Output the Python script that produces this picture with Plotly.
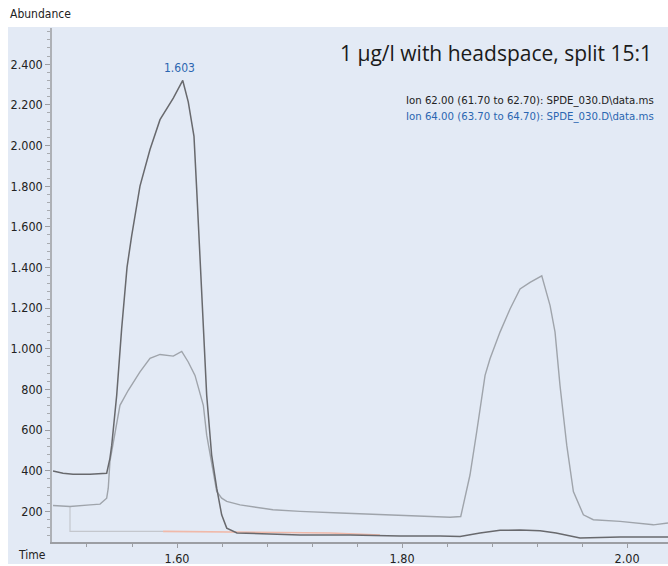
import plotly.graph_objects as go

# ---- data ----
ion_a_time = [1.4898, 1.4987, 1.5076, 1.5227, 1.5375, 1.5404, 1.5420, 1.5464, 1.5508, 1.5556,
              1.5597, 1.5671, 1.5760, 1.5849, 1.5967, 1.6051, 1.6100, 1.6151, 1.6175, 1.6198,
              1.6234, 1.6264, 1.6308, 1.6353, 1.6397, 1.6442, 1.6533, 1.6738, 1.7093, 1.7538,
              1.7982, 1.8338, 1.8516, 1.8693, 1.8871, 1.9049, 1.9227, 1.9369, 1.9464, 1.9582,
              1.9938, 2.0364]
ion_a_abund = [399, 388, 383, 383, 388, 461, 526, 771, 1098, 1402,
               1555, 1800, 1980, 2127, 2233, 2320, 2215, 2045, 1784, 1539,
               1098, 771, 477, 314, 183, 118, 94, 89, 84, 84,
               79, 79, 77, 94, 107, 108, 105, 94, 82, 69,
               74, 74]

ion_b_time = [1.4898, 1.5049, 1.5227, 1.5316, 1.5375, 1.5389, 1.5404, 1.5464, 1.5493, 1.5567,
              1.5671, 1.5760, 1.5849, 1.5967, 1.6042, 1.6100, 1.6160, 1.6234, 1.6264, 1.6353,
              1.6397, 1.6442, 1.6560, 1.6853, 1.7093, 1.7449, 1.7855, 1.8236, 1.8427, 1.8522,
              1.8545, 1.8604, 1.8664, 1.8738, 1.8782, 1.8871, 1.8960, 1.9049, 1.9138, 1.9242,
              1.9316, 1.9360, 1.9404, 1.9464, 1.9523, 1.9612, 1.9700, 1.9938, 2.0234, 2.0364]
ion_b_abund = [229, 224, 232, 236, 265, 314, 446, 624, 722, 796,
               886, 953, 972, 964, 987, 935, 869, 722, 575, 298,
               265, 249, 232, 208, 200, 192, 183, 175, 171, 175,
               232, 379, 592, 869, 951, 1082, 1196, 1294, 1327, 1359,
               1212, 1082, 820, 526, 298, 183, 159, 151, 134, 143]

faint_time = [1.5049, 1.5049, 1.5876]
faint_abund = [224, 102, 102]
salmon_time = [1.5876, 1.6560, 1.7360, 1.7804]
salmon_abund = [102, 98, 94, 84]

peak_time = 1.6051
peak_abund = 2320
peak_label = "1.603"

y_tick_vals = [200, 400, 600, 800, 1000, 1200, 1400, 1600, 1800, 2000, 2200, 2400]
y_tick_text = ["200", "400", "600", "800", "1.000", "1.200", "1.400", "1.600",
               "1.800", "2.000", "2.200", "2.400"]
x_tick_vals = [1.60, 1.80, 2.00]
x_tick_text = ["1.60", "1.80", "2.00"]

title_text = "1 µg/l with headspace, split 15:1"
legend_lines = ["Ion 62.00 (61.70 to 62.70): SPDE_030.D\\data.ms",
                "Ion 64.00 (63.70 to 64.70): SPDE_030.D\\data.ms"]

NARROW = "Liberation Sans Narrow, DejaVu Sans Condensed, Arial Narrow, sans-serif"
BG = "#e3eaf5"
BLUE = "#2b66b1"

fig = go.Figure()
fig.add_trace(go.Scatter(x=faint_time, y=faint_abund, mode="lines",
                         line=dict(color="#c4c7cd", width=1.2), hoverinfo="skip"))
fig.add_trace(go.Scatter(x=salmon_time, y=salmon_abund, mode="lines",
                         line=dict(color="#f0b9a9", width=1.6), hoverinfo="skip"))
fig.add_trace(go.Scatter(x=ion_b_time, y=ion_b_abund, mode="lines", name="Ion 64.00",
                         line=dict(color="#9fa4ab", width=1.4)))
fig.add_trace(go.Scatter(x=ion_a_time, y=ion_a_abund, mode="lines", name="Ion 62.00",
                         line=dict(color="#68696d", width=1.5)))

fig.add_annotation(x=peak_time, y=peak_abund, text=peak_label, showarrow=False,
                   yanchor="bottom", yshift=3, xshift=-3,
                   font=dict(family=NARROW, size=12, color=BLUE))

fig.add_annotation(xref="paper", yref="paper", x=-0.0714, y=1.027, text="Abundance",
                   showarrow=False, xanchor="left", yanchor="middle",
                   font=dict(family=NARROW, size=12, color="#222"))
fig.add_annotation(xref="paper", yref="paper", x=-0.0325, y=-0.0252, text="Time",
                   showarrow=False, xanchor="center", yanchor="middle",
                   font=dict(family=NARROW, size=12, color="#222"))
fig.add_annotation(xref="paper", yref="paper", x=0.977, y=0.9516, text=title_text,
                   showarrow=False, xanchor="right", yanchor="middle",
                   font=dict(family="Open Sans, sans-serif", size=21, color="#1a1a1a"))
fig.add_annotation(xref="paper", yref="paper", x=0.9805, y=0.8585, text=legend_lines[0],
                   showarrow=False, xanchor="right", yanchor="middle",
                   font=dict(family=NARROW, size=11.3, color="#222"))
fig.add_annotation(xref="paper", yref="paper", x=0.9805, y=0.8275, text=legend_lines[1],
                   showarrow=False, xanchor="right", yanchor="middle",
                   font=dict(family=NARROW, size=11.3, color=BLUE))

fig.add_shape(type="rect", xref="paper", yref="paper", x0=-0.0714, x1=1.0,
              y0=-0.0426, y1=1.002, fillcolor=BG, line=dict(width=0), layer="below")

fig.update_layout(
    width=668, height=566,
    margin=dict(l=52, r=0, t=28, b=22),
    paper_bgcolor="white", plot_bgcolor=BG,
    showlegend=False,
    xaxis=dict(range=[1.4889, 2.0364], showgrid=False, zeroline=False,
               showline=True, linecolor="#9c9ea3", linewidth=2,
               tickvals=x_tick_vals, ticktext=x_tick_text,
               ticks="outside", ticklen=4, tickcolor="#9c9ea3",
               minor=dict(dtick=0.04, ticks="outside", ticklen=3, tickcolor="#9c9ea3"),
               tickfont=dict(family=NARROW, size=12.5, color="#222")),
    yaxis=dict(range=[49.5, 2578], showgrid=False, zeroline=False,
               showline=True, linecolor="#aeb1b6", linewidth=1.5,
               tickvals=y_tick_vals, ticktext=y_tick_text,
               ticks="outside", ticklen=5, tickcolor="#9c9ea3",
               minor=dict(dtick=40, ticks="outside", ticklen=3, tickcolor="#a8abb0"),
               tickfont=dict(family=NARROW, size=12.5, color="#222")),
)

fig.write_html("out.html")
